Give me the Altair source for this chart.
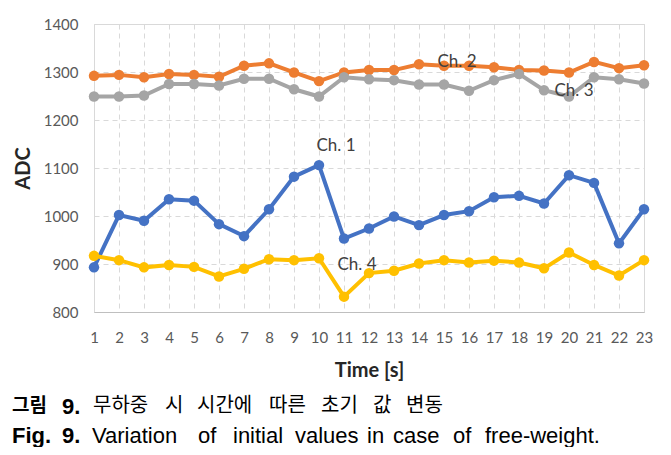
import altair as alt
import pandas as pd

time_s = list(range(1, 24))
ch1 = [893, 1002, 990, 1035, 1032, 983, 958, 1014, 1082, 1106, 953, 974, 999, 981, 1002, 1010, 1039, 1042, 1026, 1085, 1069, 943, 1014]
ch2 = [1292, 1294, 1289, 1296, 1294, 1290, 1313, 1318, 1299, 1281, 1299, 1304, 1304, 1316, 1313, 1313, 1310, 1304, 1303, 1299, 1321, 1308, 1314]
ch3 = [1249, 1249, 1251, 1275, 1275, 1272, 1286, 1286, 1264, 1249, 1289, 1285, 1283, 1274, 1274, 1261, 1283, 1296, 1262, 1249, 1289, 1285, 1276]
ch4 = [917, 908, 893, 898, 894, 874, 890, 910, 908, 912, 832, 881, 886, 901, 908, 903, 907, 903, 891, 924, 898, 876, 908]

series_names = ["Ch. 1", "Ch. 2", "Ch. 3", "Ch. 4"]
series_colors = ["#4472C4", "#ED7D31", "#A5A5A5", "#FFC000"]
y_ticks = [800, 900, 1000, 1100, 1200, 1300, 1400]

label_text = ["Ch. 1", "Ch. 2", "Ch. 3", "Ch. 4"]
label_x = [10.68, 15.52, 20.2, 11.52]
label_y = [1146, 1321, 1260, 898]

# caption words (text, left edge in px relative to plot's left edge)
ko_bold_words = ["그림"]
ko_bold_x = [-82]
ko_num_words = ["9."]
ko_num_x = [-32]
ko_words = ["무하중", "시", "시간에", "따른", "초기", "값", "변동"]
ko_x = [-1, 71, 103, 175, 227, 279, 312]
en_bold_words = ["Fig.", "9."]
en_bold_x = [-82, -32]
en_words = ["Variation", "of", "initial", "values", "in", "case", "of", "free-weight."]
en_x = [-2, 104, 139, 201, 273, 299, 359, 391]

rows = []
for name, vals in zip(series_names, [ch1, ch2, ch3, ch4]):
    for t, v in zip(time_s, vals):
        rows.append({"series": name, "time": t, "adc": v})
df = pd.DataFrame(rows)
labels_df = pd.DataFrame({"text": label_text, "time": label_x, "adc": label_y})

color = alt.Color("series:N", scale=alt.Scale(domain=series_names, range=series_colors), legend=None)

x_scale = alt.Scale(domain=[1, 23], nice=False, zero=False)
y_scale = alt.Scale(domain=[800, 1400], nice=False, zero=False)

x_axis = alt.Axis(values=time_s, title="Time [s]", format="d", labelOverlap=False, labelFlush=False,
                  grid=True, gridDash=[5, 4], gridColor="#d9d9d9",
                  domainColor="#bfbfbf", ticks=False,
                  labelFont="Lato", labelFontSize=15, labelColor="#595959",
                  labelPadding=18, titleFont="Lato", titleFontSize=20,
                  titleFontWeight="bold", titleColor="#262626", titlePadding=15)
y_axis = alt.Axis(values=y_ticks, title="ADC", format="d", labelFlush=False,
                  grid=True, gridDash=[5, 4], gridColor="#d9d9d9",
                  domain=False, ticks=False, labelOverlap=False,
                  labelFont="Lato", labelFontSize=15, labelColor="#595959",
                  labelPadding=16, titleFont="Lato", titleFontSize=20,
                  titleFontWeight="bold", titleColor="#262626",
                  titleX=-71, titleY=144, titleAlign="center", titleBaseline="middle")

x_enc = alt.X("time:Q", scale=x_scale, axis=x_axis)
y_enc = alt.Y("adc:Q", scale=y_scale, axis=y_axis)

base = alt.Chart(df)
lines = base.mark_line(strokeWidth=4).encode(x=x_enc, y=y_enc, color=color, detail="series:N")
points = base.mark_circle(size=110, opacity=1).encode(x=x_enc, y=y_enc, color=color)

labels = alt.Chart(labels_df).mark_text(font="Lato", fontSize=17, color="#404040").encode(
    x=x_enc, y=y_enc, text="text:N")


def caption(words, xs, ypix, weight, font, size):
    d = pd.DataFrame({"w": words, "px": xs})
    return alt.Chart(d).mark_text(align="left", baseline="middle", font=font, fontSize=size,
                                  fontWeight=weight, color="#000000").encode(
        x=alt.X("px:Q", scale=None), y=alt.value(ypix), text="w:N")


captions = [
    caption(ko_bold_words, ko_bold_x, 382, "bold", "Noto Sans CJK KR", 19),
    caption(ko_num_words, ko_num_x, 383, "bold", "Liberation Sans", 22),
    caption(ko_words, ko_x, 382, "normal", "Noto Sans CJK KR", 20),
    caption(en_bold_words, en_bold_x, 412, "bold", "Liberation Sans", 22),
    caption(en_words, en_x, 412, "normal", "Liberation Sans", 22),
]

chart = alt.layer(lines, points, labels, *captions).properties(
    width=550, height=288,
    autosize=alt.AutoSizeParams(type="none"),
    padding={"left": 86, "top": 16, "right": 17, "bottom": 135},
).configure_view(stroke="#d9d9d9", strokeWidth=1).configure_axis(labelOverlap=False)

chart.save("out.html", embed_options={"renderer": "svg", "actions": False})
